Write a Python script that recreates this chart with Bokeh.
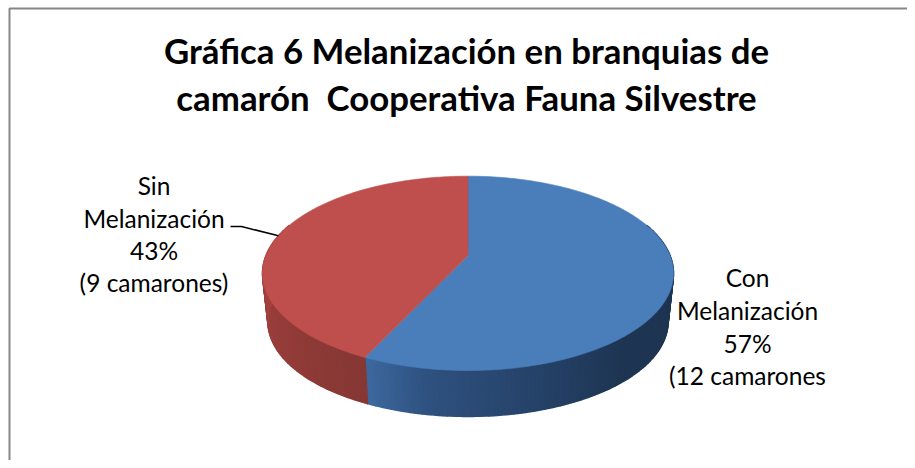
import numpy as np
from bokeh.plotting import figure
from bokeh.models import Range1d
from bokeh.core.properties import value
from bokeh.embed import file_html
from bokeh.resources import INLINE

title_lines = ["Gráfica 6 Melanización en branquias de", "camarón\u00a0 Cooperativa Fauna Silvestre"]
categories = ["Con Melanización", "Sin Melanización"]
percents = [57, 43]
shrimp = [12, 9]
label_con = ["Con", "Melanización", "57%", "(12 camarones"]
label_sin = ["Sin", "Melanización", "43%", "(9 camarones)"]
FONT = "Lato"

W, H = 907, 460
p = figure(width=W, height=H, output_backend="svg", toolbar_location=None,
           x_range=Range1d(0, W), y_range=Range1d(H, 0),
           min_border=0, min_border_left=0, min_border_right=0, min_border_top=0, min_border_bottom=0,
           outline_line_color=None, background_fill_color="white", border_fill_color="white")
p.xaxis.visible = False
p.yaxis.visible = False
p.grid.visible = False

# frame (left and top only are visible in the reference)
p.line([9, 9, W], [H, 8, 8], line_color="#868686", line_width=2)

# perspective pie
CX, K = 467.5, 0.1836
def proj(theta, R, B, y0):
    u, v = np.sin(theta), -np.cos(theta)
    w = 1 - K * v
    return CX + R * u / w, y0 + B * v / w

TOP = (202.0, 93.9, 255.0)
BOT = (196.6, 91.4, 304.0)

total = sum(percents)
split = 2 * np.pi * percents[0] / total

def side_color(t):
    deg = np.degrees(t)
    if t < split:
        d = [70, 140, 170, 190, split * 180 / np.pi]
        r = np.interp(deg, d, [30, 31, 40, 47, 62])
        g = np.interp(deg, d, [52, 54, 70, 82, 106])
        b = np.interp(deg, d, [80, 84, 110, 128, 160])
    else:
        d = [split * 180 / np.pi, 240, 290]
        r = np.interp(deg, d, [134, 150, 172])
        g = np.interp(deg, d, [56, 61, 70])
        b = np.interp(deg, d, [53, 58, 66])
    return "#%02x%02x%02x" % (int(r), int(g), int(b))

edges = np.radians(np.arange(70, 291, 1.0))
edges = np.sort(np.append(edges, split))
xs, ys, cols = [], [], []
for a, b in zip(edges[:-1], edges[1:]):
    tt = np.array([a, b])
    x1, y1 = proj(tt, *TOP)
    x2, y2 = proj(tt[::-1], *BOT)
    xs.append(list(x1) + list(x2))
    ys.append(list(y1) + list(y2))
    cols.append(side_color((a + b) / 2))
p.patches(xs, ys, fill_color=cols, line_color=cols, line_width=1.5)

# top faces
starts = [0.0, split]
ends = [split, 2 * np.pi]
top_cols = ["#4a7ebb", "#be4f4c"]
for s, e, c in zip(starts, ends, top_cols):
    t = np.linspace(s, e, 160)
    x, y = proj(t, *TOP)
    p.patch([CX] + list(x), [TOP[2]] + list(y), fill_color=c, line_color=c, line_width=0.6)

# leader line, ending on the middle of the red slice's rim
lx, ly = proj((split + 2 * np.pi) / 2, *TOP)
p.line([230, 241, lx], [226, 226, ly], line_color="black", line_width=1.5)

def text(xv, yv, s, size, bold=False):
    p.text([xv], [yv], text=[s], text_font=value(FONT), text_font_size=size,
           text_font_style="bold" if bold else "normal",
           text_align="center", text_baseline="alphabetic", text_color="black")

for yv, s in zip([50, 97], title_lines):
    text(466, yv, s, "34.8px", True)
for yv, s in zip([184.5, 217.5, 249.5, 281.5], label_sin):
    text(153.5, yv, s, "24.5px")
for yv, s in zip([276.5, 309.5, 342.5, 374.5], label_con):
    text(747, yv, s, "24.5px")

open("out.html", "w").write(file_html(p, INLINE))
